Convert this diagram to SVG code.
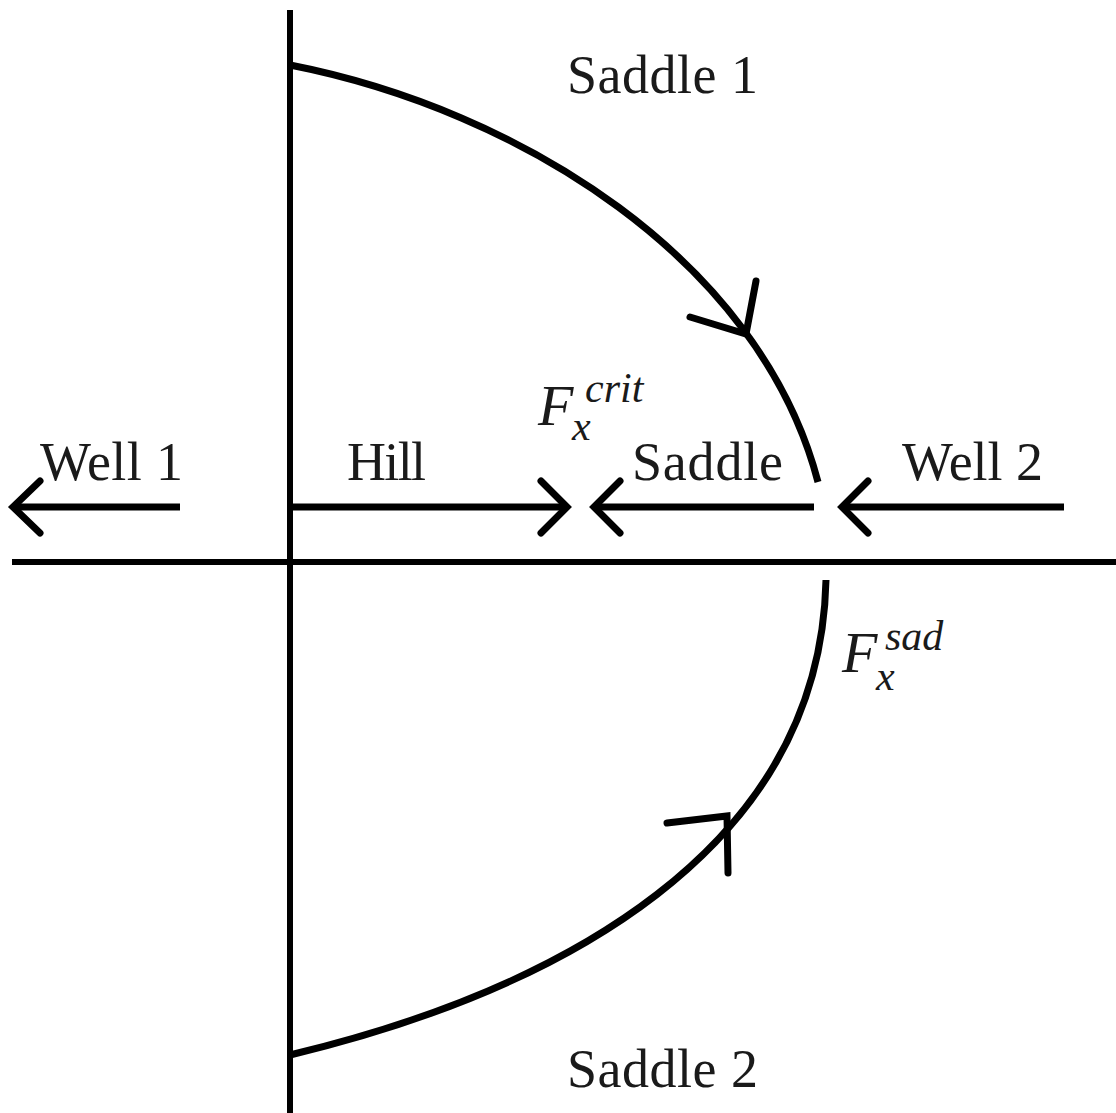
<svg xmlns="http://www.w3.org/2000/svg" width="1116" height="1113" viewBox="0 0 1116 1113">
<style>
.ln{fill:none;stroke:#000;stroke-width:7;stroke-linecap:butt;stroke-linejoin:round}
.ax{fill:none;stroke:#000;stroke-width:6}
.ah{fill:none;stroke:#000;stroke-width:7;stroke-linecap:round;stroke-linejoin:miter}
.t{font-family:"Liberation Serif","Times New Roman",serif;font-size:54px;fill:#1a1a1a}
.m{font-family:"Liberation Serif","Times New Roman",serif;font-style:italic;fill:#1a1a1a}
</style>
<rect width="1116" height="1113" fill="#fff"/>
<g id="axes">
<line class="ax" x1="290" y1="10" x2="290" y2="1113"/>
<line class="ax" x1="12" y1="562" x2="1116" y2="562"/>
</g>
<g id="connectors">
<path class="ln" d="M290,65 C520,110 760,260 818,482"/>
<path class="ah" d="M690,317 L746,334 L756,281"/>
<path class="ln" d="M290,1055 C560,990 820,850 826,580"/>
<path class="ah" d="M667,823 L727,816 L728,873"/>
<line class="ln" x1="180" y1="507" x2="14" y2="507"/>
<path class="ah" d="M40,481 L13,507 L40,533"/>
<line class="ln" x1="290" y1="507" x2="566" y2="507"/>
<path class="ah" d="M541,481 L567,507 L541,533"/>
<line class="ln" x1="814" y1="507" x2="594" y2="507"/>
<path class="ah" d="M620,481 L594,507 L620,533"/>
<line class="ln" x1="1064" y1="507" x2="842" y2="507"/>
<path class="ah" d="M868,481 L842,507 L868,533"/>
</g>
<g id="labels">
<text class="t" x="567" y="93" textLength="191">Saddle 1</text>
<text class="t" x="40" y="480" textLength="143">Well 1</text>
<text class="t" x="347" y="480" textLength="79">Hill</text>
<text class="t" x="632" y="480" textLength="151">Saddle</text>
<text class="t" x="902" y="480" textLength="141">Well 2</text>
<text class="t" x="567" y="1087" textLength="191">Saddle 2</text>
</g>
<g id="fcrit">
<text class="m" x="538" y="425" font-size="58">F</text>
<text class="m" x="585" y="402" font-size="42">crit</text>
<text class="m" x="572" y="440" font-size="42">x</text>
</g>
<g id="fsad">
<text class="m" x="842" y="672" font-size="58">F</text>
<text class="m" x="885" y="650" font-size="42">sad</text>
<text class="m" x="876" y="690" font-size="42">x</text>
</g>
</svg>
